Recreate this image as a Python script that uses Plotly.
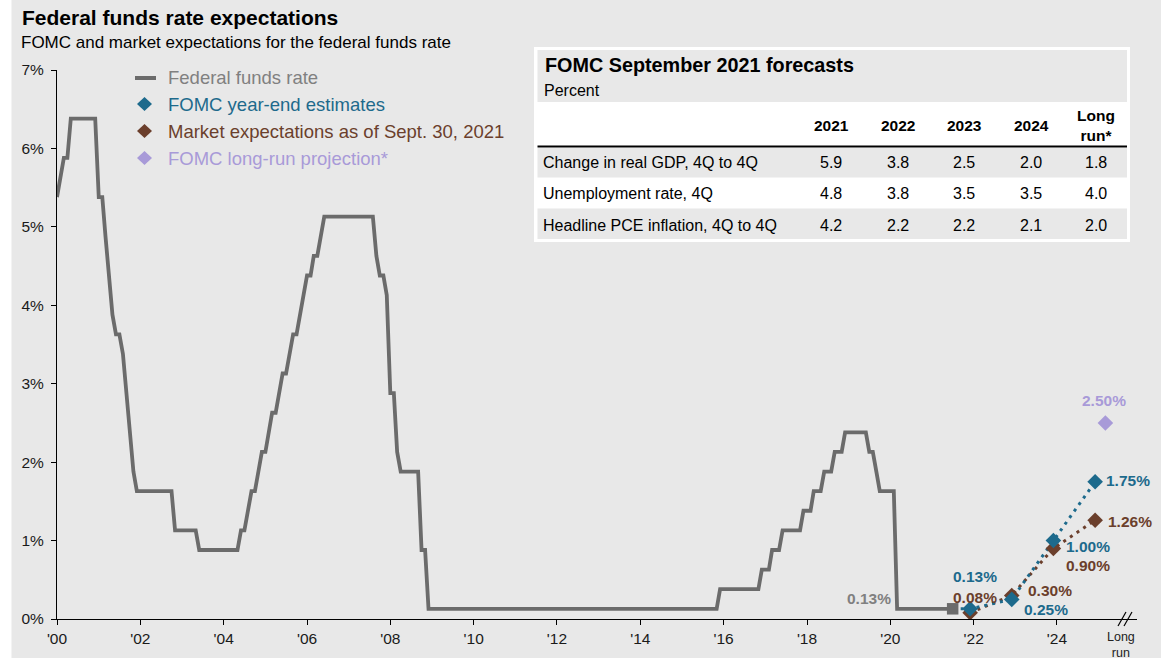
import pandas as pd
import plotly.graph_objects as go

# ---------------------------------------------------------------- data
# Federal funds rate, monthly (target less 1/8 pre-2009, range midpoint after)
ffr_start = "2000-01-01"
fed_funds_rate = [
    5.38, 5.63, 5.88, 5.88, 6.38, 6.38, 6.38, 6.38, 6.38, 6.38, 6.38, 6.38,  # 2000
    5.38, 5.38, 4.88, 4.38, 3.88, 3.63, 3.63, 3.38, 2.88, 2.38, 1.88, 1.63,  # 2001
    1.63, 1.63, 1.63, 1.63, 1.63, 1.63, 1.63, 1.63, 1.63, 1.63, 1.13, 1.13,  # 2002
    1.13, 1.13, 1.13, 1.13, 1.13, 0.88, 0.88, 0.88, 0.88, 0.88, 0.88, 0.88,  # 2003
    0.88, 0.88, 0.88, 0.88, 0.88, 1.13, 1.13, 1.38, 1.63, 1.63, 1.88, 2.13,  # 2004
    2.13, 2.38, 2.63, 2.63, 2.88, 3.13, 3.13, 3.38, 3.63, 3.63, 3.88, 4.13,  # 2005
    4.38, 4.38, 4.63, 4.63, 4.88, 5.13, 5.13, 5.13, 5.13, 5.13, 5.13, 5.13,  # 2006
    5.13, 5.13, 5.13, 5.13, 5.13, 5.13, 5.13, 5.13, 4.63, 4.38, 4.38, 4.13,  # 2007
    2.88, 2.88, 2.13, 1.88, 1.88, 1.88, 1.88, 1.88, 1.88, 0.88, 0.88, 0.13,  # 2008
    0.13, 0.13, 0.13, 0.13, 0.13, 0.13, 0.13, 0.13, 0.13, 0.13, 0.13, 0.13,  # 2009
    0.13, 0.13, 0.13, 0.13, 0.13, 0.13, 0.13, 0.13, 0.13, 0.13, 0.13, 0.13,  # 2010
    0.13, 0.13, 0.13, 0.13, 0.13, 0.13, 0.13, 0.13, 0.13, 0.13, 0.13, 0.13,  # 2011
    0.13, 0.13, 0.13, 0.13, 0.13, 0.13, 0.13, 0.13, 0.13, 0.13, 0.13, 0.13,  # 2012
    0.13, 0.13, 0.13, 0.13, 0.13, 0.13, 0.13, 0.13, 0.13, 0.13, 0.13, 0.13,  # 2013
    0.13, 0.13, 0.13, 0.13, 0.13, 0.13, 0.13, 0.13, 0.13, 0.13, 0.13, 0.13,  # 2014
    0.13, 0.13, 0.13, 0.13, 0.13, 0.13, 0.13, 0.13, 0.13, 0.13, 0.13, 0.38,  # 2015
    0.38, 0.38, 0.38, 0.38, 0.38, 0.38, 0.38, 0.38, 0.38, 0.38, 0.38, 0.63,  # 2016
    0.63, 0.63, 0.88, 0.88, 0.88, 1.13, 1.13, 1.13, 1.13, 1.13, 1.13, 1.38,  # 2017
    1.38, 1.38, 1.63, 1.63, 1.63, 1.88, 1.88, 1.88, 2.13, 2.13, 2.13, 2.38,  # 2018
    2.38, 2.38, 2.38, 2.38, 2.38, 2.38, 2.13, 2.13, 1.88, 1.63, 1.63, 1.63,  # 2019
    1.63, 1.63, 0.13, 0.13, 0.13, 0.13, 0.13, 0.13, 0.13, 0.13, 0.13, 0.13,  # 2020
    0.13, 0.13, 0.13, 0.13, 0.13, 0.13, 0.13,                                # 2021
]

# Year-end projections
forecast_dates = ["2021-12-01", "2022-12-01", "2023-12-01", "2024-12-01"]
fomc_estimates = [0.13, 0.25, 1.00, 1.75]
market_expectations = [0.08, 0.30, 0.90, 1.26]
longrun_date = "2025-03-01"
longrun_projection = 2.50

# x-axis labels
tick_years = [2000, 2002, 2004, 2006, 2008, 2010, 2012, 2014, 2016, 2018, 2020, 2022, 2024]
tick_labels = ["'00", "'02", "'04", "'06", "'08", "'10", "'12", "'14", "'16", "'18", "'20", "'22", "'24"]
y_ticks = [0, 1, 2, 3, 4, 5, 6, 7]

# FOMC September 2021 forecasts table
table_columns = ["2021", "2022", "2023", "2024", "Long<br>run*"]
table_rows = ["Change in real GDP, 4Q to 4Q", "Unemployment rate, 4Q", "Headline PCE inflation, 4Q to 4Q"]
real_gdp = [5.9, 3.8, 2.5, 2.0, 1.8]
unemployment = [4.8, 3.8, 3.5, 3.5, 4.0]
pce_inflation = [4.2, 2.2, 2.2, 2.1, 2.0]

# ---------------------------------------------------------------- style
FONT = "Liberation Sans, Arial, sans-serif"
BG = "#e8e8e8"
GRAY = "#6b6b6b"
GRAY_TEXT = "#808080"
BLUE = "#1d6a8c"
BROWN = "#6b3f2c"
LAVENDER = "#a89ad8"

W, H = 1165, 660
PL, PR, PT, PB = 57, 1137, 70, 619


def fx(px):
    return (px - PL) / (PR - PL)


def fy(py):
    return (PB - py) / (PB - PT)


ffr_dates = pd.date_range(ffr_start, periods=len(fed_funds_rate), freq="MS")
last_date = ffr_dates[-1]
last_rate = fed_funds_rate[-1]

fig = go.Figure()

# Federal funds rate history
fig.add_trace(go.Scatter(
    x=ffr_dates, y=fed_funds_rate, mode="lines",
    line=dict(color=GRAY, width=3.8), hoverinfo="skip", showlegend=False,
))

# Market path (dotted)
fig.add_trace(go.Scatter(
    x=forecast_dates, y=market_expectations, mode="lines",
    line=dict(color=BROWN, width=3, dash="3px,5px"), showlegend=False,
))
# FOMC path (dotted), starting from the latest rate
fig.add_trace(go.Scatter(
    x=[last_date] + forecast_dates, y=[last_rate] + fomc_estimates, mode="lines",
    line=dict(color=BLUE, width=3, dash="3px,5px"), showlegend=False,
))
# Latest rate marker
fig.add_trace(go.Scatter(
    x=[last_date], y=[last_rate], mode="markers",
    marker=dict(symbol="square", size=11.5, color=GRAY), showlegend=False,
))
# Market markers
fig.add_trace(go.Scatter(
    x=forecast_dates, y=market_expectations, mode="markers",
    marker=dict(symbol="diamond", size=12, color=BROWN), showlegend=False,
))
# FOMC markers
fig.add_trace(go.Scatter(
    x=forecast_dates, y=fomc_estimates, mode="markers",
    marker=dict(symbol="diamond", size=12, color=BLUE), showlegend=False,
))
# Long-run projection
fig.add_trace(go.Scatter(
    x=[longrun_date], y=[longrun_projection], mode="markers",
    marker=dict(symbol="diamond", size=12, color=LAVENDER), showlegend=False,
))

annotations = []
shapes = []

# ---------------------------------------------------------------- value labels
label_font = dict(family=FONT, size=15.5)


def value_label(x, y, color, xshift, yshift, xanchor="center"):
    annotations.append(dict(
        x=x, y=y, xref="x", yref="y", text=f"<b>{y:.2f}%</b>", showarrow=False,
        xanchor=xanchor, yanchor="middle", xshift=xshift, yshift=yshift,
        font=dict(label_font, color=color),
    ))


value_label(last_date, last_rate, GRAY_TEXT, -84, 10)

fomc_offsets = [(5, 32, "center"), (10, -10, "left"), (11, -6, "left"), (9, 1, "left")]
market_offsets = [(5, 15, "center"), (14, 5, "left"), (11, -17, "left"), (11, -1, "left")]
for d, v, (dx, dy, anc) in zip(forecast_dates, fomc_estimates, fomc_offsets):
    value_label(d, v, BLUE, dx, dy, anc)
for d, v, (dx, dy, anc) in zip(forecast_dates, market_expectations, market_offsets):
    value_label(d, v, BROWN, dx, dy, anc)
value_label(longrun_date, longrun_projection, LAVENDER, -1, 22)

# ---------------------------------------------------------------- long-run axis label & break
annotations.append(dict(
    x="2025-07-20", y=fy(645), xref="x", yref="paper", text="Long<br>run",
    showarrow=False, xanchor="center", yanchor="middle",
    font=dict(family=FONT, size=12.5, color="#222222"),
))
for x0 in (1118, 1124):
    shapes.append(dict(type="line", xref="paper", yref="paper",
                       x0=fx(x0), y0=fy(626), x1=fx(x0 + 8), y1=fy(612),
                       line=dict(color="black", width=1.2)))

# ---------------------------------------------------------------- background panel
shapes.append(dict(type="rect", xref="paper", yref="paper", layer="below",
                   x0=fx(11.5), x1=fx(1161), y0=fy(658), y1=fy(-5),
                   fillcolor=BG, line=dict(width=0)))

# ---------------------------------------------------------------- titles
annotations.append(dict(
    x=fx(20), y=fy(18), xref="paper", yref="paper", text="<b>Federal funds rate expectations</b>",
    showarrow=False, xanchor="left", yanchor="middle",
    font=dict(family=FONT, size=21, color="#000000"),
))
annotations.append(dict(
    x=fx(19), y=fy(43), xref="paper", yref="paper",
    text="FOMC and market expectations for the federal funds rate",
    showarrow=False, xanchor="left", yanchor="middle",
    font=dict(family=FONT, size=17, color="#000000"),
))

# ---------------------------------------------------------------- legend
legend_items = [
    ("Federal funds rate", GRAY, GRAY_TEXT, "line"),
    ("FOMC year-end estimates", BLUE, BLUE, "diamond"),
    ("Market expectations as of Sept. 30, 2021", BROWN, BROWN, "diamond"),
    ("FOMC long-run projection*", LAVENDER, LAVENDER, "diamond"),
]
for i, (name, mcolor, tcolor, kind) in enumerate(legend_items):
    cy = 77 + 27 * i
    if kind == "line":
        shapes.append(dict(type="line", xref="paper", yref="paper",
                           x0=fx(135), x1=fx(156), y0=fy(cy + 1), y1=fy(cy + 1),
                           line=dict(color=mcolor, width=4)))
    else:
        cx, hw, hh = 144.5, 7.5, 7
        path = (f"M {fx(cx - hw)},{fy(cy)} L {fx(cx)},{fy(cy - hh)} "
                f"L {fx(cx + hw)},{fy(cy)} L {fx(cx)},{fy(cy + hh)} Z")
        shapes.append(dict(type="path", xref="paper", yref="paper", path=path,
                           fillcolor=mcolor, line=dict(width=0)))
    annotations.append(dict(
        x=fx(166), y=fy(cy), xref="paper", yref="paper", text=name,
        showarrow=False, xanchor="left", yanchor="middle",
        font=dict(family=FONT, size=18.5, color=tcolor),
    ))

# ---------------------------------------------------------------- forecasts table
TL, TR, TT, TB = 534, 1130, 47, 242
shapes.append(dict(type="rect", xref="paper", yref="paper",
                   x0=fx(TL), x1=fx(TR), y0=fy(TB), y1=fy(TT),
                   fillcolor="white", line=dict(width=0)))
for top, bottom in [(50, 102), (148, 177.5), (208.5, 239)]:
    shapes.append(dict(type="rect", xref="paper", yref="paper",
                       x0=fx(TL + 3.5), x1=fx(TR - 3), y0=fy(bottom), y1=fy(top),
                       fillcolor=BG, line=dict(width=0)))
shapes.append(dict(type="line", xref="paper", yref="paper",
                   x0=fx(TL + 3.5), x1=fx(TR - 3), y0=fy(146.5), y1=fy(146.5),
                   line=dict(color="black", width=2.2)))

annotations.append(dict(
    x=fx(543), y=fy(65), xref="paper", yref="paper", text="<b>FOMC September 2021 forecasts</b>",
    showarrow=False, xanchor="left", yanchor="middle",
    font=dict(family=FONT, size=19.8, color="#000000"),
))
annotations.append(dict(
    x=fx(542), y=fy(90), xref="paper", yref="paper", text="Percent",
    showarrow=False, xanchor="left", yanchor="middle",
    font=dict(family=FONT, size=16, color="#000000"),
))
col_x = [831, 897.5, 964, 1031, 1096]
for cx, col in zip(col_x, table_columns):
    annotations.append(dict(
        x=fx(cx), y=fy(126), xref="paper", yref="paper", text=f"<b>{col}</b>",
        showarrow=False, xanchor="center", yanchor="middle",
        font=dict(family=FONT, size=15.5, color="#000000"),
    ))
row_y = [162, 193.5, 225]
for ry, label, values in zip(row_y, table_rows, [real_gdp, unemployment, pce_inflation]):
    annotations.append(dict(
        x=fx(541), y=fy(ry), xref="paper", yref="paper", text=label,
        showarrow=False, xanchor="left", yanchor="middle",
        font=dict(family=FONT, size=16, color="#000000"),
    ))
    for cx, v in zip(col_x, values):
        annotations.append(dict(
            x=fx(cx), y=fy(ry), xref="paper", yref="paper", text=f"{v:.1f}",
            showarrow=False, xanchor="center", yanchor="middle",
            font=dict(family=FONT, size=16, color="#000000"),
        ))

# ---------------------------------------------------------------- layout
fig.update_layout(
    width=W, height=H,
    margin=dict(l=PL, r=W - PR, t=PT, b=H - PB, pad=0),
    paper_bgcolor="white", plot_bgcolor=BG,
    font=dict(family=FONT, color="#000000"),
    showlegend=False,
    xaxis=dict(
        type="date", range=["2000-01-01", "2025-12-03"],
        tickvals=[f"{y}-01-01" for y in tick_years], ticktext=tick_labels,
        ticks="outside", ticklen=5, tickcolor="black", tickwidth=1,
        showline=True, linecolor="black", linewidth=1,
        showgrid=False, zeroline=False,
        tickfont=dict(family=FONT, size=15.5, color="#1a1a1a"),
    ),
    yaxis=dict(
        range=[0, 7], tickvals=y_ticks, ticktext=[f"{t}%" for t in y_ticks],
        ticks="outside", ticklen=5, tickcolor="black", tickwidth=1,
        showline=True, linecolor="black", linewidth=1,
        showgrid=False, zeroline=False, ticklabelstandoff=4,
        tickfont=dict(family=FONT, size=15.5, color="#1a1a1a"),
    ),
    annotations=annotations,
    shapes=shapes,
)

fig.write_html("out.html")
